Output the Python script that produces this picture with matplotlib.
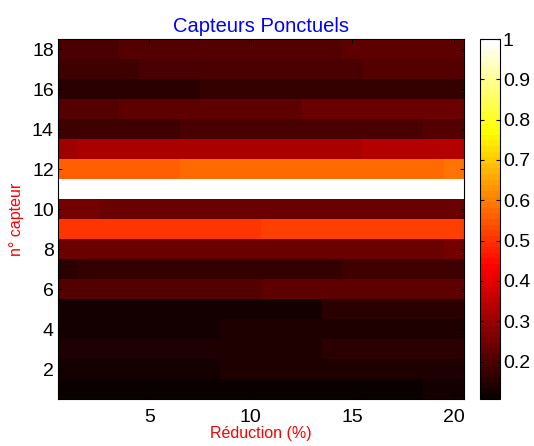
import numpy as np
import matplotlib
matplotlib.use("Agg")
import matplotlib.pyplot as plt
from matplotlib.colors import ListedColormap

plt.rcParams["font.family"] = ["Liberation Sans", "DejaVu Sans"]

# Réduction (%) : colonnes 1..20, capteurs : lignes 1..18
reductions = np.arange(1, 21)
capteurs = np.arange(1, 19)

# (valeur, nombre de colonnes) par capteur, du capteur 1 au capteur 18
segments = [
    [(0.107, 18), (0.128, 2)],                 # 1
    [(0.128, 8), (0.142, 12)],                 # 2
    [(0.142, 13), (0.156, 7)],                 # 3
    [(0.128, 8), (0.142, 12)],                 # 4
    [(0.128, 13), (0.156, 7)],                 # 5
    [(0.212, 10), (0.226, 10)],                # 6
    [(0.156, 1), (0.170, 13), (0.184, 6)],     # 7
    [(0.240, 19), (0.254, 1)],                 # 8
    [(0.505, 10), (0.519, 10)],                # 9
    [(0.254, 2), (0.240, 18)],                 # 10
    [(1.0, 20)],                               # 11
    [(0.560, 6), (0.574, 13), (0.588, 1)],     # 12
    [(0.309, 1), (0.323, 14), (0.337, 5)],     # 13
    [(0.184, 6), (0.198, 12), (0.212, 2)],     # 14
    [(0.212, 3), (0.226, 9), (0.240, 8)],      # 15
    [(0.156, 7), (0.170, 13)],                 # 16
    [(0.184, 4), (0.198, 11), (0.212, 5)],     # 17
    [(0.198, 3), (0.212, 11), (0.226, 6)],     # 18
]

data = np.array([[v for v, n in row for _ in range(n)] for row in segments])

# colormap "hot" façon MATLAB, 64 niveaux
m = 64
n = int(3 / 8 * m)
r = np.r_[np.arange(1, n + 1) / n, np.ones(m - n)]
g = np.r_[np.zeros(n), np.arange(1, n + 1) / n, np.ones(m - 2 * n)]
b = np.r_[np.zeros(2 * n), np.arange(1, m - 2 * n + 1) / (m - 2 * n)]
hot64 = ListedColormap(np.c_[r, g, b])

fig = plt.figure(figsize=(5.34, 4.46), dpi=100)
ax = fig.add_axes([58 / 534, 1 - 399 / 446, 406 / 534, 360 / 446])
cax = fig.add_axes([480 / 534, 1 - 399 / 446, 20 / 534, 360 / 446])

im = ax.imshow(data, cmap=hot64, origin="lower", aspect="auto",
               interpolation="nearest",
               extent=[reductions[0] - 0.5, reductions[-1] + 0.5,
                       capteurs[0] - 0.5, capteurs[-1] + 0.5])

ax.set_xticks([5, 10, 15, 20])
ax.set_yticks(np.arange(2, 19, 2))
ax.tick_params(direction="in", top=True, right=True, labelsize=14,
               length=3, width=0.8, pad=3)
ax.tick_params(axis="x", pad=7)
ax.set_title("Capteurs Ponctuels", color="blue", fontsize=14.5, pad=5)
ax.set_xlabel("Réduction (%)", color="red", fontsize=11.5, labelpad=0)
ax.set_ylabel("n° capteur", color="red", fontsize=11.5, labelpad=6)

cb = fig.colorbar(im, cax=cax)
cb.set_ticks([0.2, 0.3, 0.4, 0.5, 0.6, 0.7, 0.8, 0.9, 1])
cb.set_ticklabels(["0.2", "0.3", "0.4", "0.5", "0.6", "0.7", "0.8", "0.9", "1"])
cax.tick_params(direction="in", left=True, right=True, labelsize=14,
                length=3, width=0.8, pad=2)
cb.outline.set_linewidth(0.8)

fig.savefig("out.png", dpi=100)
